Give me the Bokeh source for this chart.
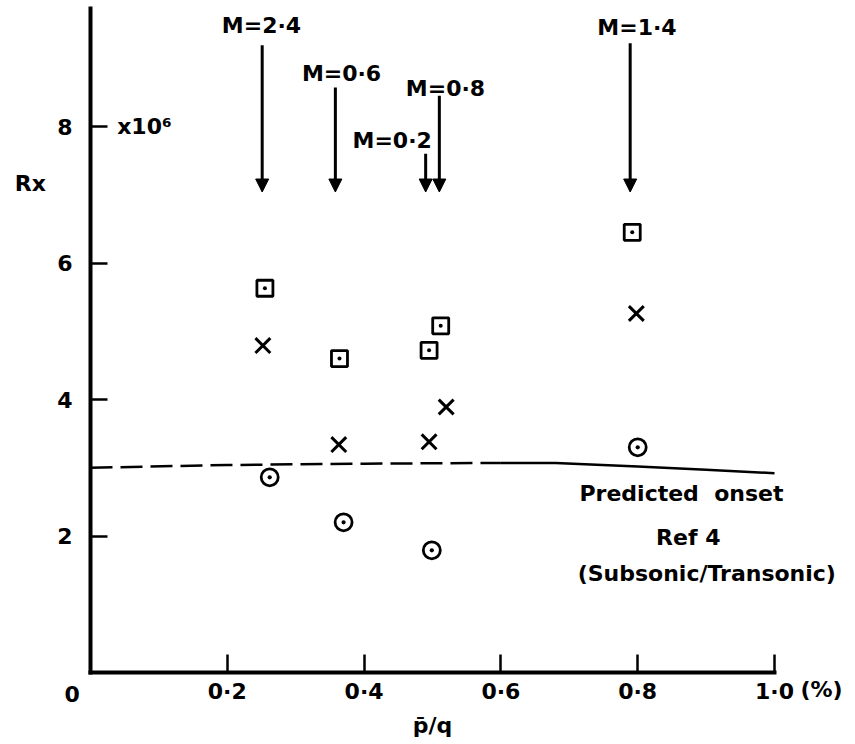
from bokeh.plotting import figure
from bokeh.models import FixedTicker, Label, Arrow, NormalHead
from bokeh.embed import file_html
from bokeh.resources import INLINE

# ---------------- data ----------------
square_x = [0.255, 0.364, 0.495, 0.512, 0.792]
square_y = [5.63, 4.60, 4.72, 5.08, 6.45]
cross_x = [0.252, 0.363, 0.495, 0.520, 0.798]
cross_y = [4.79, 3.34, 3.38, 3.89, 5.26]
circle_x = [0.262, 0.370, 0.499, 0.800]
circle_y = [2.86, 2.20, 1.79, 3.30]

onset_dash_x = [0.0, 0.2, 0.4, 0.6]
onset_dash_y = [3.00, 3.04, 3.06, 3.07]
onset_solid_x = [0.6, 0.68, 0.8, 0.9, 1.0]
onset_solid_y = [3.07, 3.07, 3.02, 2.97, 2.92]

mach_labels = ["M=2·4", "M=0·6", "M=0·2", "M=0·8", "M=1·4"]
mach_x = [0.251, 0.358, 0.490, 0.510, 0.789]

x_ticks = [0.2, 0.4, 0.6, 0.8, 1.0]
x_tick_labels = ["0·2", "0·4", "0·6", "0·8", "1·0"]
y_ticks = [2, 4, 6, 8]
y_tick_labels = ["2", "4", "6", "8"]

# ---------------- layout constants ----------------
FONT = "DejaVu Sans"
FS = "22px"
mach_text_x = [0.250, 0.367, 0.441, 0.519, 0.799]
mach_text_y = [9.48, 8.78, 7.79, 8.56, 9.45]
arrow_top = [9.19, 8.57, 7.60, 8.45, 9.22]
arrow_tip = 7.04

PX_X = 684.0   # pixels per x unit
PX_Y = 68.25   # pixels per y unit
p = figure(width=855, height=744,
           x_range=(-90 / PX_X, 765 / PX_X), y_range=(-72 / PX_Y, 672 / PX_Y),
           output_backend="svg", toolbar_location=None)
p.min_border = 0
p.min_border_left = 0
p.min_border_bottom = 0
p.min_border_top = 0
p.min_border_right = 0
p.grid.visible = False
p.outline_line_color = None
p.background_fill_color = "white"
p.border_fill_color = "white"

for ax in (p.xaxis[0], p.yaxis[0]):
    ax.fixed_location = 0
    ax.axis_line_width = 4
    ax.axis_line_color = "black"
    ax.axis_line_cap = "square"
    ax.major_tick_out = 0
    ax.major_tick_line_width = 2.5
    ax.major_tick_line_color = "black"
    ax.minor_tick_line_color = None
    ax.major_label_text_font = FONT
    ax.major_label_text_font_size = FS
    ax.major_label_text_font_style = "bold"
    ax.major_label_text_color = "black"

p.xaxis.bounds = (0, 1.0)
p.yaxis.bounds = (0, 9.73)
p.xaxis.ticker = FixedTicker(ticks=x_ticks)
p.yaxis.ticker = FixedTicker(ticks=y_ticks)
p.xaxis.major_label_overrides = {t: l for t, l in zip(x_ticks, x_tick_labels)}
p.yaxis.major_label_overrides = {t: l for t, l in zip(y_ticks, y_tick_labels)}
p.xaxis.major_tick_in = 18
p.yaxis.major_tick_in = 17
p.xaxis.major_label_standoff = 6
p.yaxis.major_label_standoff = 18
p.xaxis.axis_label = "p\u0304/q"
p.xaxis.axis_label_text_font = FONT
p.xaxis.axis_label_text_font_size = FS
p.xaxis.axis_label_text_font_style = "bold"
p.xaxis.axis_label_text_color = "black"
p.xaxis.axis_label_standoff = 6

# predicted onset line
p.line(onset_dash_x, onset_dash_y, line_color="black", line_width=2.5, line_dash="22 8")
p.line(onset_solid_x, onset_solid_y, line_color="black", line_width=2.5)

# markers
p.scatter(square_x, square_y, marker="square_dot", size=16, fill_color=None,
          line_color="black", line_width=2.8)
p.scatter(cross_x, cross_y, marker="x", size=21, line_color="black", line_width=3)
p.scatter(circle_x, circle_y, marker="circle_dot", size=17, fill_color=None,
          line_color="black", line_width=2.8)

# Mach arrows and labels
for lab, ax_, tx, ty, top in zip(mach_labels, mach_x, mach_text_x, mach_text_y, arrow_top):
    p.add_layout(Arrow(x_start=ax_, y_start=top, x_end=ax_, y_end=arrow_tip,
                       line_width=3, line_color="black",
                       end=NormalHead(size=13, fill_color="black", line_color="black")))
    p.add_layout(Label(x=tx, y=ty, text=lab, text_align="center", text_baseline="middle",
                       text_font=FONT, text_font_size=FS, text_font_style="bold",
                       text_color="black"))

def lbl(x, y, t, align="center"):
    p.add_layout(Label(x=x, y=y, text=t, text_align=align, text_baseline="middle",
                       text_font=FONT, text_font_size=FS, text_font_style="bold",
                       text_color="black"))

lbl(-0.088, 7.16, "Rx")
lbl(0.039, 8.0, "x10\u2076", align="left")
lbl(-0.027, -0.31, "0")
lbl(1.038, -0.25, "(%)", align="left")
lbl(0.864, 2.62, "Predicted\u00a0 onset")
lbl(0.874, 1.98, "Ref 4")
lbl(0.901, 1.45, "(Subsonic/Transonic)")

open("out.html", "w").write(file_html(p, INLINE))
